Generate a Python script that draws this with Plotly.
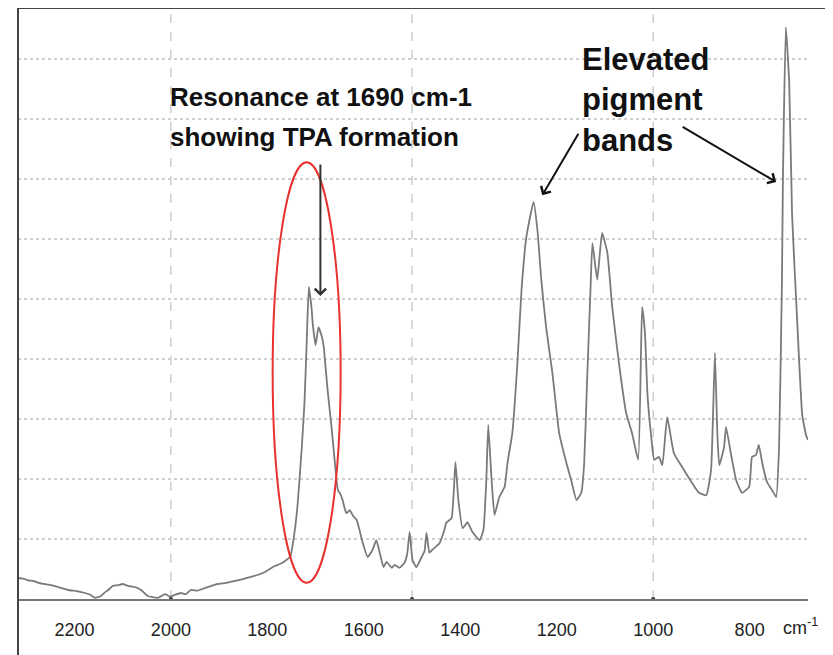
import plotly.graph_objects as go

# IR spectrum (wavenumber in cm-1, absorbance in grid units)
wavenumber = [2317, 2306, 2296, 2285, 2275, 2262, 2248, 2230, 2213, 2195, 2178, 2167, 2157, 2145,
              2137, 2130, 2120, 2110, 2100, 2089, 2075, 2062, 2048, 2038, 2027, 2012, 2002, 1992,
              1979, 1969, 1959, 1945, 1930, 1916, 1903, 1885, 1868, 1851, 1834, 1820, 1805, 1795,
              1785, 1775, 1764, 1752, 1743, 1737, 1729, 1723, 1718, 1714, 1708, 1706, 1700, 1694,
              1687, 1683, 1681, 1675, 1667, 1660, 1656, 1653, 1650, 1644, 1640, 1636, 1629, 1622,
              1615, 1608, 1602, 1592, 1582, 1574, 1567, 1559, 1553, 1542, 1536, 1526, 1516, 1510,
              1505, 1499, 1491, 1480, 1474, 1470, 1464, 1458, 1443, 1433, 1429, 1418, 1410, 1404,
              1395, 1385, 1375, 1360, 1352, 1346, 1342, 1335, 1329, 1319, 1308, 1302, 1292, 1282,
              1273, 1263, 1248, 1240, 1232, 1222, 1209, 1195, 1180, 1170, 1159, 1149, 1143, 1137,
              1130, 1126, 1116, 1106, 1095, 1085, 1070, 1056, 1044, 1031, 1023, 1017, 1012, 1004,
              998, 988, 981, 971, 957, 940, 919, 905, 890, 880, 872, 867, 863, 853, 849, 839, 828,
              816, 801, 795, 787, 781, 774, 764, 754, 745, 739, 733, 731, 725, 718, 712, 702, 691,
              683, 679]
absorbance = [0.35, 0.34, 0.31, 0.30, 0.27, 0.25, 0.23, 0.19, 0.15, 0.13, 0.10, 0.07, 0.02, 0.05,
              0.11, 0.15, 0.22, 0.23, 0.25, 0.22, 0.20, 0.15, 0.05, 0.03, 0.02, 0.08, 0.04, 0.07,
              0.10, 0.08, 0.15, 0.14, 0.18, 0.22, 0.25, 0.27, 0.30, 0.33, 0.37, 0.40, 0.45, 0.50,
              0.55, 0.58, 0.63, 0.72, 1.15, 1.60, 2.48, 3.27, 4.37, 5.20, 4.82, 4.60, 4.23, 4.53,
              4.37, 4.20, 4.02, 3.48, 2.87, 2.27, 1.93, 1.80, 1.77, 1.65, 1.52, 1.43, 1.48, 1.38,
              1.32, 1.12, 0.93, 0.70, 0.82, 0.98, 0.77, 0.53, 0.62, 0.52, 0.57, 0.52, 0.60, 0.75,
              1.12, 0.65, 0.53, 0.70, 0.80, 1.10, 0.77, 0.82, 0.93, 1.15, 1.27, 1.35, 2.28, 1.65,
              1.18, 1.28, 1.12, 0.98, 1.15, 1.98, 2.90, 1.98, 1.40, 1.70, 1.87, 2.27, 2.77, 3.87,
              5.15, 6.03, 6.62, 6.15, 5.32, 4.53, 3.77, 2.77, 2.27, 1.98, 1.65, 1.77, 2.27, 3.65,
              5.15, 5.93, 5.32, 6.10, 5.77, 4.87, 3.87, 3.10, 2.77, 2.32, 4.87, 4.43, 3.43, 2.70,
              2.32, 2.37, 2.23, 3.03, 2.43, 2.20, 1.93, 1.77, 1.73, 2.15, 4.10, 2.77, 2.23, 2.53,
              2.87, 2.43, 1.98, 1.77, 1.87, 2.37, 2.40, 2.57, 2.27, 1.95, 1.82, 1.70, 2.53, 5.32,
              6.98, 9.53, 8.62, 6.40, 4.73, 3.07, 2.73, 2.65]

tick_vals = [2200, 2000, 1800, 1600, 1400, 1200, 1000, 800]
tick_text = ["2200", "2000", "1800", "1600", "1400", "1200", "1000", "800"]
grid_x = [2000, 1500, 1000]
grid_y = [1, 2, 3, 4, 5, 6, 7, 8, 9]

sans = "Liberation Sans, Arial"

fig = go.Figure()

for gx in grid_x:
    fig.add_vline(x=gx, line=dict(color="#b5b5b5", width=1, dash="dash"), layer="below")

fig.add_trace(go.Scatter(x=wavenumber, y=absorbance, mode="lines",
                         line=dict(color="#7a7a7a", width=1.8, shape="spline", smoothing=0.4),
                         hoverinfo="skip"))

# small dots where the grid meets the axis
fig.add_trace(go.Scatter(x=grid_x, y=[0] * len(grid_x), mode="markers",
                         marker=dict(color="#333", size=4), cliponaxis=False, hoverinfo="skip"))

# red ellipse round the 1690 band
fig.add_shape(type="circle", xref="x", yref="y", x0=1789, x1=1648, y0=0.27, y1=7.28,
              line=dict(color="#e8322f", width=2))

# outer frame
fig.add_shape(type="rect", xref="paper", yref="paper", x0=0, x1=1.028, y0=-0.12, y1=1,
              line=dict(color="#444", width=2))

fig.add_annotation(x=2006, y=8.37, xanchor="left", yanchor="middle", showarrow=False,
                   text="Resonance at 1690 cm-1",
                   font=dict(family=sans, size=26, color="#111", weight="bold"))
fig.add_annotation(x=2006, y=7.70, xanchor="left", yanchor="middle", showarrow=False,
                   text="showing TPA formation",
                   font=dict(family=sans, size=26, color="#111", weight="bold"))
fig.add_annotation(x=1151, y=8.32, xanchor="left", yanchor="middle", align="left", showarrow=False,
                   text="Elevated<br>pigment<br>bands",
                   font=dict(family=sans, size=31, color="#111", weight="bold"))

arrow = dict(text="", showarrow=True, arrowhead=4, arrowsize=1.1, arrowwidth=2, standoff=0)
fig.add_annotation(x=1690, y=5.05, ax=0, ay=-133, arrowcolor="#333", **arrow)
fig.add_annotation(x=1230, y=6.73, ax=37, ay=-63, arrowcolor="#111", **arrow)
fig.add_annotation(x=745, y=6.95, ax=-95, ay=-56, arrowcolor="#111", **arrow)

fig.add_annotation(xref="paper", yref="paper", x=0.99, y=-0.047, xanchor="center", yanchor="middle",
                   showarrow=False, text="cm<sup>-1</sup>",
                   font=dict(family=sans, size=18, color="#222"))

# the page adds an 8 px body margin, so the figure is 8 px smaller each way
fig.update_layout(
    width=825, height=647,
    margin=dict(l=10, r=25, t=0, b=56),
    plot_bgcolor="white", paper_bgcolor="white",
    showlegend=False,
)
fig.update_xaxes(range=[2317, 679], tickvals=tick_vals, ticktext=tick_text, showgrid=False,
                 zeroline=False, showline=True, linecolor="#777", linewidth=2, ticks="",
                 ticklabelstandoff=13, tickfont=dict(family=sans, size=18, color="#222"))
fig.update_yaxes(range=[0, 9.85], tickvals=grid_y, showticklabels=False, showgrid=True,
                 gridcolor="#d0d0d0", gridwidth=2, griddash="dot", zeroline=False, ticks="")

fig.write_html("out.html")
